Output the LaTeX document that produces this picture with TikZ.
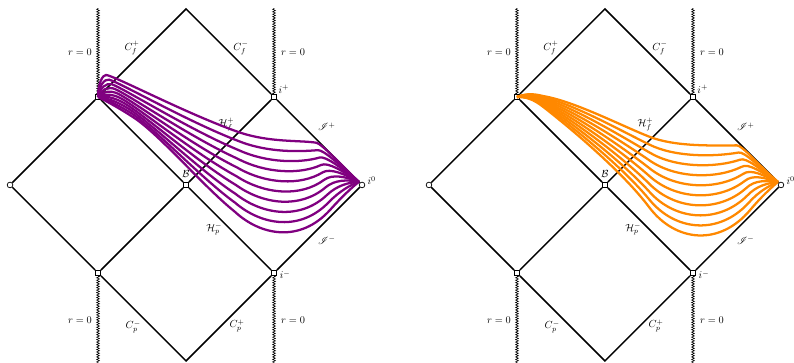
\documentclass[tikz,border=0pt]{standalone}
\usepackage{amsmath,amssymb}
\usepackage{mathrsfs}
\usepackage{xcolor}
\usepackage{tikz}
\usetikzlibrary{calc,decorations.pathmorphing}
\definecolor{slicepurple}{RGB}{128,0,128}
\definecolor{sliceorange}{RGB}{255,136,0}
\tikzset{
  horizon/.style  = {line width=1.4pt},
  singular/.style = {line width=0.6pt, decorate,
                     decoration={zigzag, segment length=2.4pt, amplitude=1.3pt}},
  corner/.style   = {draw, fill=white, line width=0.7pt, minimum size=5pt, inner sep=0pt},
  infty/.style    = {draw, circle, fill=white, line width=0.7pt, minimum size=5.5pt, inner sep=0pt},
  tag/.style      = {inner sep=0pt},
  slice/.style    = {line width=2.2pt},
}

\begin{document}
\begin{tikzpicture}[x=3cm, y=3cm]
  \useasboundingbox (-2.114,-2.023) rectangle (6.909,2.102);
  \foreach \d/\dx in {L/0, R/4.761} {
    \begin{scope}[shift={(\dx,0)}]
      \coordinate (top\d) at (0,2);
      \coordinate (bot\d) at (0,-2);
      \coordinate (zul\d) at (-1,2.01);
      \coordinate (zur\d) at (1,2.01);
      \coordinate (zll\d) at (-1,-2.03);
      \coordinate (zlr\d) at (1,-2.03);
      \node[corner] (ul\d) at (-1,1) {};
      \node[corner] (ur\d) at (1,1) {};
      \node[corner] (B\d)  at (0,0) {};
      \node[corner] (ll\d) at (-1,-1) {};
      \node[corner] (lr\d) at (1,-1) {};
      \node[infty]  (lf\d) at (-2,0) {};
      \node[infty]  (rt\d) at (2,0) {};
      \draw[horizon] (ul\d) -- (top\d) -- (ur\d);
      \draw[horizon] (ll\d) -- (bot\d) -- (lr\d);
      \draw[horizon] (lf\d) -- (ul\d); \draw[horizon] (lf\d) -- (ll\d);
      \draw[horizon] (rt\d) -- (ur\d); \draw[horizon] (rt\d) -- (lr\d);
      \draw[horizon] (ul\d) -- (B\d); \draw[horizon] (B\d) -- (ur\d);
      \draw[horizon] (ll\d) -- (B\d); \draw[horizon] (B\d) -- (lr\d);
      \draw[singular] (ul\d) -- (zul\d); \draw[singular] (ur\d) -- (zur\d);
      \draw[singular] (ll\d) -- (zll\d); \draw[singular] (lr\d) -- (zlr\d);
      \node[tag] (rul\d) at (-1.205,1.511) {$r=0$};
      \node[tag] (rur\d) at (1.216,1.511) {$r=0$};
      \node[tag] (rll\d) at (-1.205,-1.534) {$r=0$};
      \node[tag] (rlr\d) at (1.216,-1.534) {$r=0$};
      \node[tag] (Cfp\d) at (-0.614,1.557) {$C_f^+$};
      \node[tag] (Cfm\d) at (0.625,1.557) {$C_f^-$};
      \node[tag] (Cpm\d) at (-0.60,-1.61) {$C_p^-$};
      \node[tag] (Cpp\d) at (0.58,-1.60) {$C_p^+$};
      \node[tag] (Hf\d) at (0.46,0.69) {$\mathcal{H}_f^+$};
      \node[tag] (Hp\d) at (0.32,-0.50) {$\mathcal{H}_p^-$};
      \node[tag] (Sp\d) at (1.60,0.66) {$\mathscr{I}^+$};
      \node[tag] (Sm\d) at (1.60,-0.625) {$\mathscr{I}^-$};
      \node[tag] (ip\d) at (1.11,1.09) {$i^+$};
      \node[tag] (im\d) at (1.125,-1.02) {$i^-$};
      \node[tag] (iz\d) at (2.11,0.05) {$i^0$};
      \node[tag] (Bt\d) at (0,0.125) {$\mathcal{B}$};
    \end{scope}
  }
  % guide curves of the slices: T = first slice, B = last slice
  \coordinate (pT0) at (-1,1);      \coordinate (pB0) at (-1,1);
  \coordinate (pT1) at (-1,1.15);   \coordinate (pB1) at (-0.9,0.95);
  \coordinate (pT2) at (-0.95,1.25);\coordinate (pB2) at (-0.75,0.8675);
  \coordinate (pT3) at (-0.91,1.25);\coordinate (pB3) at (-0.6,0.77);
  \coordinate (pT4) at (-0.83,1.25);\coordinate (pB4) at (-0.3,0.575);
  \coordinate (pT5) at (0,0.81);    \coordinate (pB5) at (0.2,-0.02);
  \coordinate (pT6) at (0.6,0.6);   \coordinate (pB6) at (0.55,-0.3);
  \coordinate (pT7) at (0.95,0.48); \coordinate (pB7) at (0.85,-0.58);
  \coordinate (pT8) at (1.3,0.51);  \coordinate (pB8) at (1.3,-0.66);
  \coordinate (pT9) at (1.48,0.48); \coordinate (pB9) at (1.64,-0.28);
  \coordinate (pT10) at (1.54,0.47);\coordinate (pB10) at (1.76,-0.147);
  \coordinate (pT11) at (1.74,0.25);\coordinate (pB11) at (1.88,-0.03);
  \coordinate (pT12) at (1.965,0.035);\coordinate (pB12) at (1.965,0.035);
  \begin{scope}[shift={(4.761,0)}]
    \coordinate (oT0) at (-1,1);      \coordinate (oB0) at (-1,1);
    \coordinate (oT1) at (-0.9,1.04); \coordinate (oB1) at (-0.9,1.0);
    \coordinate (oT2) at (-0.82,1.04);\coordinate (oB2) at (-0.82,0.98);
    \coordinate (oT3) at (-0.7,1.01); \coordinate (oB3) at (-0.7,0.886);
    \coordinate (oT4) at (-0.35,0.95);\coordinate (oB4) at (-0.4,0.652);
    \coordinate (oT5) at (0.15,0.69); \coordinate (oB5) at (0.2,0.15);
    \coordinate (oT6) at (0.5,0.55);  \coordinate (oB6) at (0.5,-0.25);
    \coordinate (oT7) at (0.8,0.43);  \coordinate (oB7) at (0.8,-0.65);
    \coordinate (oT8) at (1.25,0.45); \coordinate (oB8) at (1.3,-0.7);
    \coordinate (oT9) at (1.5,0.45);  \coordinate (oB9) at (1.65,-0.284);
    \coordinate (oT10) at (1.56,0.45);\coordinate (oB10) at (1.78,-0.13);
    \coordinate (oT11) at (1.75,0.22);\coordinate (oB11) at (1.88,-0.04);
    \coordinate (oT12) at (1.965,0.035);\coordinate (oB12) at (1.965,0.035);
  \end{scope}
  \foreach \k in {0,...,9} {
    \pgfmathsetmacro\t{\k/9}
    \draw[slice, slicepurple] ($(pT0)!\t!(pB0)$)
      .. controls ($(pT1)!\t!(pB1)$) and ($(pT2)!\t!(pB2)$) .. ($(pT3)!\t!(pB3)$)
      .. controls ($(pT4)!\t!(pB4)$) and ($(pT5)!\t!(pB5)$) .. ($(pT6)!\t!(pB6)$)
      .. controls ($(pT7)!\t!(pB7)$) and ($(pT8)!\t!(pB8)$) .. ($(pT9)!\t!(pB9)$)
      .. controls ($(pT10)!\t!(pB10)$) and ($(pT11)!\t!(pB11)$) .. ($(pT12)!\t!(pB12)$);
    \draw[slice, sliceorange] ($(oT0)!\t!(oB0)$)
      .. controls ($(oT1)!\t!(oB1)$) and ($(oT2)!\t!(oB2)$) .. ($(oT3)!\t!(oB3)$)
      .. controls ($(oT4)!\t!(oB4)$) and ($(oT5)!\t!(oB5)$) .. ($(oT6)!\t!(oB6)$)
      .. controls ($(oT7)!\t!(oB7)$) and ($(oT8)!\t!(oB8)$) .. ($(oT9)!\t!(oB9)$)
      .. controls ($(oT10)!\t!(oB10)$) and ($(oT11)!\t!(oB11)$) .. ($(oT12)!\t!(oB12)$);
  }
\end{tikzpicture}
\end{document}
